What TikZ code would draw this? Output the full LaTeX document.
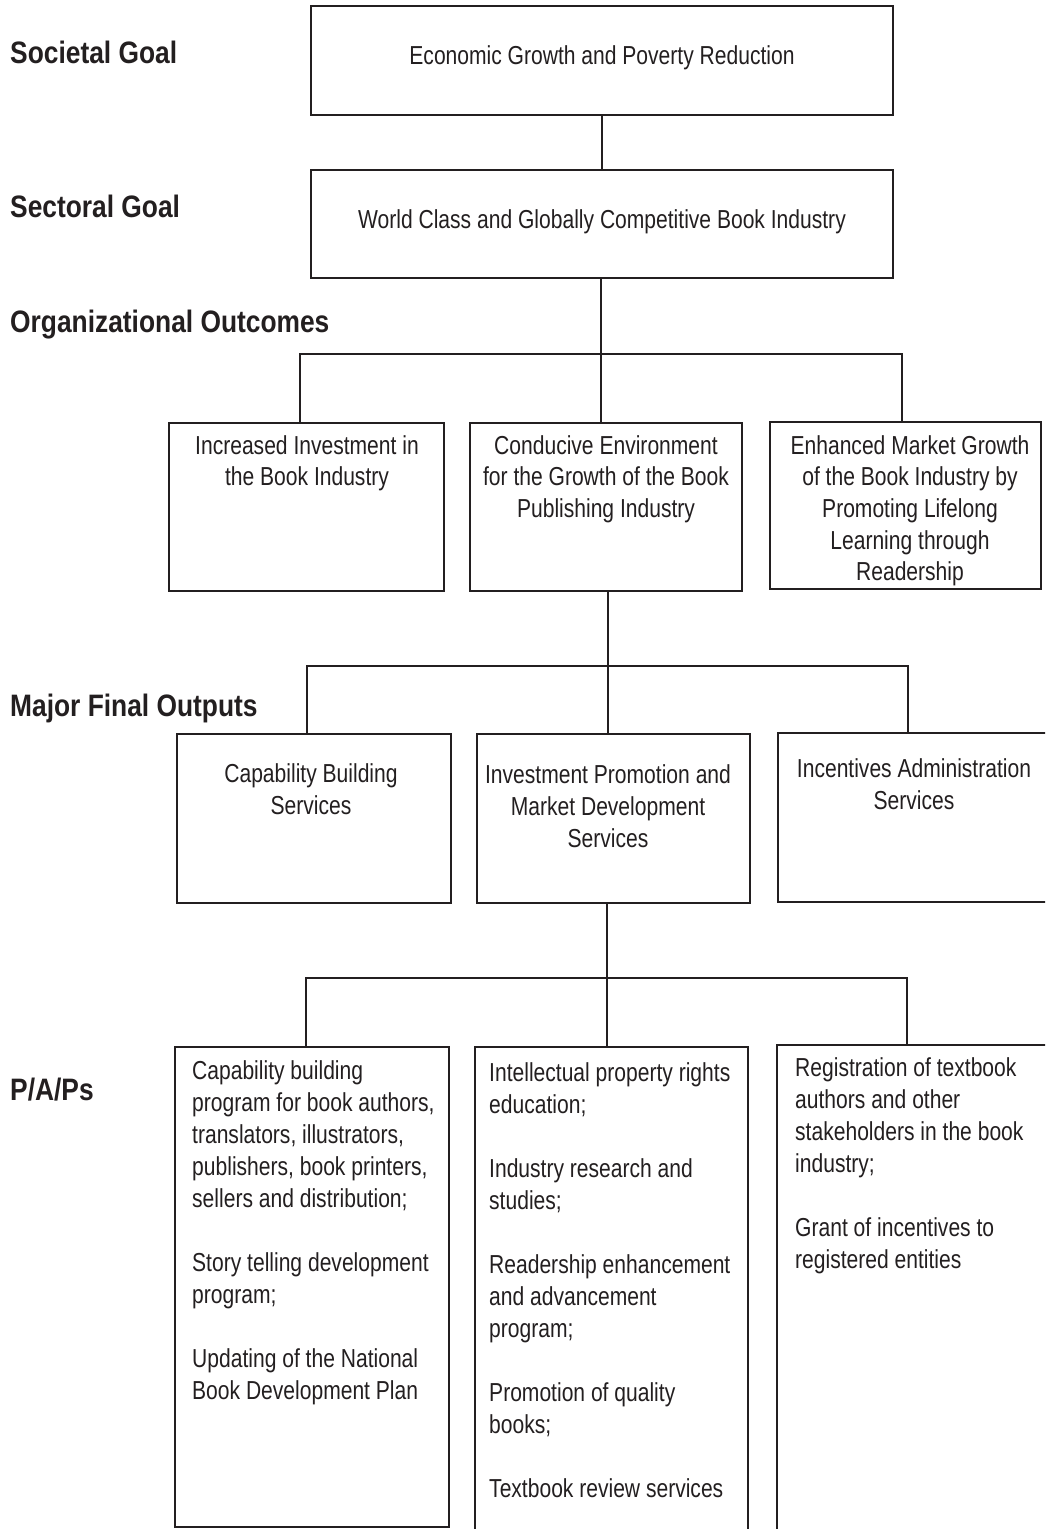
\documentclass[tikz,border=0pt]{standalone}
\usepackage{fontspec}
\setmainfont[FakeStretch=0.81]{Liberation Sans}
\newfontfamily\labfont[FakeStretch=0.85]{Liberation Sans}
\definecolor{ink}{HTML}{231F20}
\begin{document}
\begin{tikzpicture}[x=1pt,y=-1pt,
  box/.style={draw=ink, line width=2.8pt, inner sep=0pt, outer sep=0pt, anchor=north west, rectangle},
  conn/.style={draw=ink, line width=2.6pt},
  txt/.style={inner sep=0pt, text=ink, font=\fontsize{26}{32}\selectfont, anchor=base},
  ootxt/.style={inner sep=0pt, text=ink, font=\fontsize{26}{31.7}\selectfont, anchor=base},
  ltxt/.style={inner sep=0pt, text=ink, font=\fontsize{26}{32}\selectfont, anchor=base west},
  lab/.style={inner sep=0pt, text=ink, font=\labfont\bfseries\fontsize{31}{36}\selectfont, anchor=base west}]
\useasboundingbox (0,0) rectangle (1045,1529);
\fill[white] (0,0) rectangle (1045,1529);
\clip (0,0) rectangle (1045,1529);

% level labels
\node[lab] (l1) at (10,63) {Societal Goal};
\node[lab] (l2) at (10,217) {Sectoral Goal};
\node[lab] (l3) at (10,332) {Organizational Outcomes};
\node[lab] (l4) at (10,716) {Major Final Outputs};
\node[lab] (l5) at (10,1100) {P/A/Ps};

% boxes
\node[box, minimum width=582pt, minimum height=109pt] (eg) at (311,6) {};
\node[box, minimum width=582pt, minimum height=108pt] (sg) at (311,170) {};
\node[box, minimum width=275pt, minimum height=168pt] (oo1) at (169,423) {};
\node[box, minimum width=272pt, minimum height=168pt] (oo2) at (470,423) {};
\node[box, minimum width=271pt, minimum height=167pt] (oo3) at (770,422) {};
\node[box, minimum width=274pt, minimum height=169pt] (mfo1) at (177,734) {};
\node[box, minimum width=273pt, minimum height=169pt] (mfo2) at (477,734) {};
\node[box, minimum width=290pt, minimum height=169pt] (mfo3) at (778,733) {};
\node[box, minimum width=274pt, minimum height=480pt] (pap1) at (175,1047) {};
\node[box, minimum width=273pt, minimum height=530pt] (pap2) at (475,1047) {};
\node[box, minimum width=290pt, minimum height=530pt] (pap3) at (777,1045) {};

% texts
\node[txt] (t-eg) at (602,64) {Economic Growth and Poverty Reduction};
\node[txt] (t-sg) at (602,228) {World Class and Globally Competitive Book Industry};
\node[ootxt] (t-oo1) at (307,454) {\begin{tabular}[t]{@{}c@{}}Increased Investment in\\the Book Industry\end{tabular}};
\node[ootxt] (t-oo2) at (606,454) {\begin{tabular}[t]{@{}c@{}}Conducive Environment\\for the Growth of the Book\\Publishing Industry\end{tabular}};
\node[ootxt] (t-oo3) at (910,454) {\begin{tabular}[t]{@{}c@{}}Enhanced Market Growth\\of the Book Industry by\\Promoting Lifelong\\Learning through\\Readership\end{tabular}};
\node[txt] (t-mfo1) at (311,782) {\begin{tabular}[t]{@{}c@{}}Capability Building\\Services\end{tabular}};
\node[txt] (t-mfo2) at (608,783) {\begin{tabular}[t]{@{}c@{}}Investment Promotion and\\Market Development\\Services\end{tabular}};
\node[txt] (t-mfo3) at (914,777) {\begin{tabular}[t]{@{}c@{}}Incentives Administration\\Services\end{tabular}};
\node[ltxt] (t-pap1) at (192,1079) {\begin{tabular}[t]{@{}l@{}}Capability building\\program for book authors,\\translators, illustrators,\\publishers, book printers,\\sellers and distribution;\\ \\Story telling development\\program;\\ \\Updating of the National\\Book Development Plan\end{tabular}};
\node[ltxt] (t-pap2) at (489,1081) {\begin{tabular}[t]{@{}l@{}}Intellectual property rights\\education;\\ \\Industry research and\\studies;\\ \\Readership enhancement\\and advancement\\program;\\ \\Promotion of quality\\books;\\ \\Textbook review services\end{tabular}};
\node[ltxt] (t-pap3) at (795,1076) {\begin{tabular}[t]{@{}l@{}}Registration of textbook\\authors and other\\stakeholders in the book\\industry;\\ \\Grant of incentives to\\registered entities\end{tabular}};

% junction coordinates
\coordinate (ooJ) at (601,354);
\coordinate (ooL) at (300,354);
\coordinate (ooR) at (902,354);
\coordinate (mfoJ) at (608,666);
\coordinate (mfoL) at (307,666);
\coordinate (mfoR) at (908,666);
\coordinate (papJ) at (607,978);
\coordinate (papL) at (306,978);
\coordinate (papR) at (907,978);

% connectors
\draw[conn] (eg.south) -- (sg.north);
\draw[conn] (ooJ |- sg.south) -- (ooJ |- oo2.north);
\draw[conn] (ooL |- oo1.north) -- (ooL) -- (ooR) -- (ooR |- oo3.north);
\draw[conn] (mfoJ |- oo2.south) -- (mfoJ |- mfo2.north);
\draw[conn] (mfoL |- mfo1.north) -- (mfoL) -- (mfoR) -- (mfoR |- mfo3.north);
\draw[conn] (papJ |- mfo2.south) -- (papJ |- pap2.north);
\draw[conn] (papL |- pap1.north) -- (papL) -- (papR) -- (papR |- pap3.north);
\end{tikzpicture}
\end{document}
